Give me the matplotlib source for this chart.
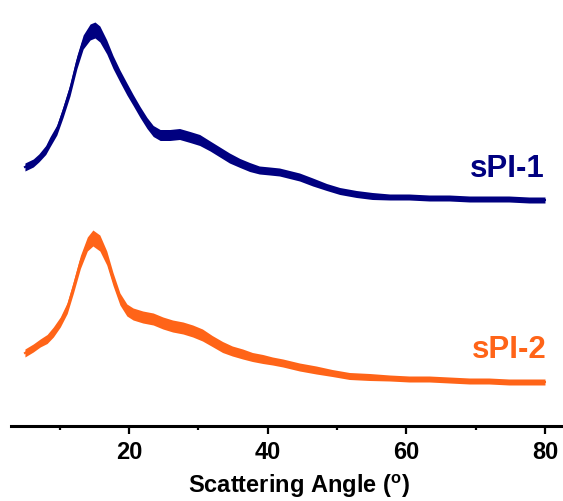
import numpy as np
import matplotlib
matplotlib.use("Agg")
import matplotlib.pyplot as plt

# scattering angle (deg) and intensity (a.u.) of the two samples
angle_1 = [5.0, 6.2, 7.0, 8.0, 8.6, 9.6, 10.5, 11.5, 12.5, 13.4, 14.4, 15.1, 15.8,
           16.8, 17.7, 18.7, 19.7, 20.6, 21.6, 22.6, 23.5, 24.5, 25.9, 27.3, 28.8,
           30.2, 31.7, 33.1, 34.5, 36.0, 37.4, 38.8, 40.3, 41.7, 44.6, 46.5, 48.5,
           50.4, 52.8, 55.1, 57.6, 60.4, 63.3, 66.2, 69.1, 71.9, 74.8, 77.7, 80.0]
inten_1 = [79, 83, 88, 96, 104, 116, 134, 156, 184, 204, 214, 216, 212,
           199, 184, 170, 157, 146, 134, 123, 115, 111, 111, 112, 109,
           106, 100, 94, 88, 83, 79, 76, 75, 74, 69, 64, 59,
           55, 52, 50, 49, 49, 48, 48, 47, 47, 47, 46, 46]
noise_1 = [4, 4, 4, 4.5, 5, 5, 5.5, 6, 6.5, 7, 8, 8, 8,
           7, 6.5, 6, 6, 5.5, 5.5, 5.5, 5.5, 5.5, 5.5, 5.5, 5.5,
           5.5, 5, 5, 5, 4.5, 4.5, 4, 4, 4, 4, 4, 3.5,
           3.5, 3.5, 3.5, 3, 3, 3, 3, 3, 3, 3, 3, 3]

angle_2 = [5.0, 6.2, 7.2, 8.2, 9.1, 10.1, 11.1, 12.0, 13.0, 14.0, 14.8, 15.8, 16.8,
           17.7, 18.7, 19.7, 20.6, 22.0, 23.5, 24.9, 26.3, 27.8, 29.2, 30.6, 32.0,
           33.5, 34.9, 36.4, 37.8, 39.3, 40.7, 42.2, 44.6, 47.0, 49.3, 51.8, 54.7,
           57.6, 60.4, 63.3, 66.2, 69.1, 71.9, 74.8, 77.7, 80.0]
inten_2 = [73, 78, 83, 87, 94, 104, 118, 139, 164, 182, 188, 183, 168,
           147, 127, 116, 112, 109, 107, 103, 100, 98, 95, 91, 85,
           79, 75, 72, 69, 67, 65, 63, 59, 56, 53, 50, 49,
           48, 47, 47, 46, 45, 45, 44, 44, 44]
noise_2 = [4, 4, 4, 4.5, 5, 5, 5.5, 6, 6.5, 7, 8, 8, 7,
           6.5, 6, 6, 6, 6, 6, 6, 6, 6, 6, 6, 5.5,
           5.5, 5, 5, 4.5, 4.5, 4, 4, 4, 4, 3.5, 3.5, 3.5,
           3, 3, 3, 3, 3, 3, 3, 3, 3]

offset_1 = 180   # vertical shift of sPI-1 for stacking
labels = ["sPI-1", "sPI-2"]
colors = ["#000080", "#FF6418"]

plt.rcParams['font.family'] = ['Liberation Sans', 'DejaVu Sans']
plt.rcParams['font.weight'] = 'bold'
plt.rcParams['mathtext.fontset'] = 'custom'
plt.rcParams['mathtext.rm'] = 'Liberation Sans:bold'
plt.rcParams['mathtext.bf'] = 'Liberation Sans:bold'


def desenha_curva(ax, x, y, ruido, cor):
    x = np.array(x)
    y = np.array(y, dtype=float)
    ruido = np.array(ruido)
    ax.fill_between(x, y - ruido, y + ruido, color=cor, lw=0)
    ax.plot(x, y, color=cor, lw=1.5)


fig = plt.figure(figsize=(5.63, 5.01), dpi=100)
ax = fig.add_axes([0.0204, 0.1497, 0.9796, 0.8503])

desenha_curva(ax, angle_1, np.array(inten_1) + offset_1, noise_1, colors[0])
desenha_curva(ax, angle_2, inten_2, noise_2, colors[1])

ax.text(80, inten_1[-1] + offset_1 + 31, labels[0], color=colors[0], fontsize=22.5,
        fontweight='bold', ha='right', va='center')
ax.text(80.3, inten_2[-1] + 32, labels[1], color=colors[1], fontsize=22.5,
        fontweight='bold', ha='right', va='center')

ax.set_xlim(3.06, 82.6)
ax.set_ylim(0, 426)

for lado in ['top', 'right', 'left']:
    ax.spines[lado].set_visible(False)
ax.spines['bottom'].set_linewidth(2.2)
ax.set_yticks([])
ax.set_xticks([20, 40, 60, 80])
ax.set_xticks([10, 30, 50, 70], minor=True)
ax.tick_params(axis='x', which='major', direction='out', length=6, width=1.6,
               labelsize=17, pad=5)
ax.tick_params(axis='x', which='minor', direction='out', length=3, width=1.6)
for lab in ax.get_xticklabels():
    lab.set_fontweight('bold')

ax.set_xlabel(r'Scattering Angle ($^{\mathrm{o}}$)', fontsize=17, fontweight='bold')
ax.xaxis.set_label_coords(0.521, -0.108)

fig.savefig("out.png", dpi=100)
